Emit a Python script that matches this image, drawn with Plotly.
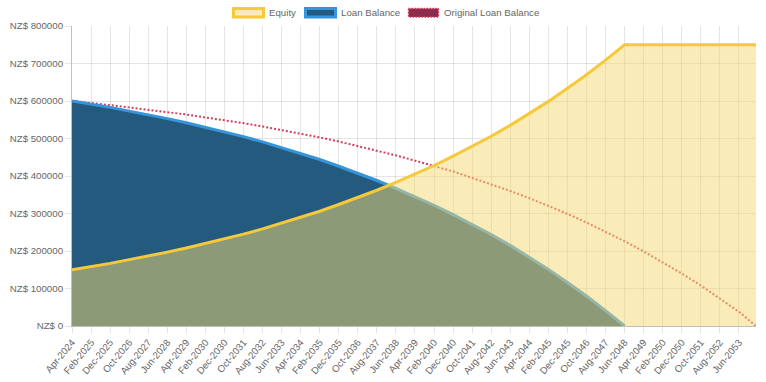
import pandas as pd
import plotly.graph_objects as go

# Sampled months (every 10 months, plus final month)
months = ["Apr-2024", "Feb-2025", "Dec-2025", "Oct-2026", "Aug-2027", "Jun-2028", "Apr-2029",
          "Feb-2030", "Dec-2030", "Oct-2031", "Aug-2032", "Jun-2033", "Apr-2034", "Feb-2035",
          "Dec-2035", "Oct-2036", "Aug-2037", "Jun-2038", "Apr-2039", "Feb-2040", "Dec-2040",
          "Oct-2041", "Aug-2042", "Jun-2043", "Apr-2044", "Feb-2045", "Dec-2045", "Oct-2046",
          "Aug-2047", "Jun-2048", "Apr-2049", "Feb-2050", "Dec-2050", "Oct-2051", "Aug-2052",
          "Jun-2053", "Mar-2054"]

equity = [150000, 158000, 167000, 177000, 186000, 197000, 208000, 220000, 232000, 245000,
          259000, 274000, 290000, 306000, 324000, 342000, 362000, 383000, 405000, 428000,
          453000, 479000, 506000, 535000, 566000, 599000, 634000, 670000, 709000, 750000,
          750000, 750000, 750000, 750000, 750000, 750000, 750000]

loan_balance = [600000, 592000, 583000, 573000, 564000, 553000, 542000, 530000, 518000, 505000,
                491000, 476000, 460000, 444000, 426000, 408000, 388000, 367000, 345000, 322000,
                297000, 271000, 244000, 215000, 184000, 151000, 116000, 80000, 41000, 0,
                None, None, None, None, None, None, None]

original_balance = [600000, 595000, 589000, 583000, 577000, 571000, 564000, 556000, 549000, 541000,
                    532000, 523000, 513000, 503000, 492000, 480000, 468000, 455000, 441000, 427000,
                    412000, 395000, 378000, 360000, 341000, 320000, 299000, 276000, 252000, 226000,
                    199000, 170000, 140000, 108000, 74000, 38000, 0]

series_names = ["Equity", "Loan Balance", "Original Loan Balance"]

x = pd.to_datetime(months, format="%b-%Y")

FONT = "Liberation Sans, Arial, Helvetica, sans-serif"
GREY = "#666666"
FS = 9.7

eq_line = "rgb(246,201,58)"
eq_fill = "rgba(245,217,113,0.5)"
loan_line = "rgb(54,148,218)"
loan_fill = "rgb(36,90,126)"
orig_line = "rgb(212,62,92)"
orig_fill = "rgb(140,45,75)"

fig = go.Figure()
fig.add_trace(go.Scatter(x=x, y=original_balance, mode="lines", name=series_names[2],
                         line=dict(color=orig_line, width=2, dash="2px,2px"), showlegend=False))
fig.add_trace(go.Scatter(x=x, y=loan_balance, mode="lines", name=series_names[1], fill="tozeroy",
                         fillcolor=loan_fill, line=dict(color=loan_line, width=3), showlegend=False,
                         connectgaps=False))
fig.add_trace(go.Scatter(x=x, y=equity, mode="lines", name=series_names[0], fill="tozeroy",
                         fillcolor=eq_fill, line=dict(color=eq_line, width=3), showlegend=False))

L, R, T, B = 72, 10, 26, 56
W, H = 766, 382
pw, ph = W - L - R, H - T - B


def px(xp):
    return (xp - L) / pw


def py(yp):
    return (H - B - yp) / ph


shapes = []
annotations = []
legend_items = [
    (232, eq_fill, eq_line, "solid", series_names[0]),
    (304, loan_fill, loan_line, "solid", series_names[1]),
    (407, orig_fill, orig_line, "dot", series_names[2]),
]
for x0, fc, lc, dash, name in legend_items:
    shapes.append(dict(type="rect", xref="paper", yref="paper",
                       x0=px(x0 + 1.5), x1=px(x0 + 31.5), y0=py(8.5), y1=py(17),
                       fillcolor=fc,
                       line=dict(color=lc, width=3 if dash == "solid" else 1.5,
                                 dash="solid" if dash == "solid" else "1.5px,1.5px"),
                       layer="above"))
    annotations.append(dict(xref="paper", yref="paper", x=px(x0 + 35), y=py(12.5),
                            xanchor="left", yanchor="middle", text=name, showarrow=False,
                            font=dict(family=FONT, size=FS, color=GREY)))

fig.update_layout(
    width=W, height=H,
    margin=dict(l=L, r=R, t=T, b=B, autoexpand=False),
    paper_bgcolor="white", plot_bgcolor="white",
    font=dict(family=FONT, size=FS, color=GREY),
    shapes=shapes, annotations=annotations,
    showlegend=False,
)
fig.update_xaxes(
    type="date", range=[x[0], x[-1]], tick0=x[0], dtick="M10", tickformat="%b-%Y",
    tickangle=-50, showgrid=True, gridcolor="rgba(0,0,0,0.1)", gridwidth=1,
    ticks="outside", ticklen=6, tickcolor="rgba(0,0,0,0.1)",
    showline=True, linecolor="rgba(0,0,0,0.25)", linewidth=1, zeroline=False,
    tickfont=dict(family=FONT, size=FS, color=GREY),
)
fig.update_yaxes(
    range=[0, 800000], dtick=100000, tickformat="d", tickprefix="NZ$ ",
    showgrid=True, gridcolor="rgba(0,0,0,0.1)", gridwidth=1,
    ticks="outside", ticklen=6, tickcolor="rgba(0,0,0,0.1)",
    showline=True, linecolor="rgba(0,0,0,0.25)", linewidth=1, zeroline=False,
    tickfont=dict(family=FONT, size=FS, color=GREY),
)

fig.write_html("out.html", config={"displayModeBar": False},
               post_script="document.body.style.margin='0';document.body.style.overflow='hidden';")
